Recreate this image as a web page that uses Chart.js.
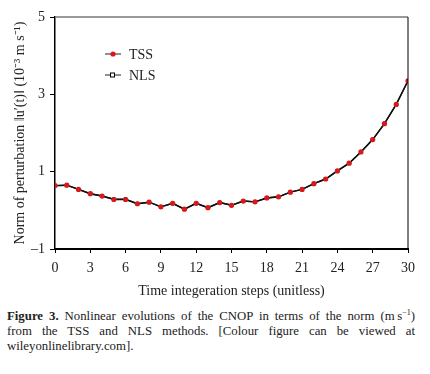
<!DOCTYPE html>
<html>
<head>
<meta charset="utf-8">
<script src="https://cdn.jsdelivr.net/npm/chart.js@4.4.1/dist/chart.umd.min.js"></script>
<style>
  html, body { margin: 0; padding: 0; background: #fff; }
  body { width: 430px; height: 374px; position: relative; overflow: hidden; }
  #wrap { position: absolute; left: 0; top: 0; width: 430px; height: 300px; }
  .cap { position: absolute; left: 7px; width: 408px; top: 309px;
         font-family: "Liberation Serif", serif; font-size: 12.8px; line-height: 15px; color: #222; }
  .cap div { text-align: justify; text-align-last: justify; }
  .cap div.last { text-align-last: left; }
</style>
</head>
<body>
<div id="wrap"><canvas id="chart"></canvas></div>
<div class="cap">
  <div><b>Figure 3.</b> Nonlinear evolutions of the CNOP in terms of the norm (m&#8201;s<sup style="font-size:8px;line-height:0">&minus;1</sup>)</div>
  <div>from the TSS and NLS methods. [Colour figure can be viewed at</div>
  <div class="last">wileyonlinelibrary.com].</div>
</div>
<script>
// time steps and norms
const steps = [0,1,2,3,4,5,6,7,8,9,10,11,12,13,14,15,16,17,18,19,20,21,22,23,24,25,26,27,28,29,30]
const tss = [0.64,0.65,0.54,0.43,0.37,0.28,0.28,0.17,0.21,0.09,0.18,0.03,0.18,0.07,0.20,0.13,0.24,0.22,0.32,0.35,0.47,0.54,0.69,0.81,1.02,1.22,1.51,1.83,2.24,2.74,3.35]
const nls = [0.64,0.65,0.54,0.43,0.37,0.29,0.29,0.17,0.21,0.09,0.18,0.03,0.18,0.07,0.20,0.13,0.24,0.22,0.32,0.35,0.47,0.54,0.69,0.81,1.02,1.22,1.51,1.83,2.24,2.74,3.35]
const xTicks = [0,3,6,9,12,15,18,21,24,27,30]
const yTicks = [-1,1,3,5]

const serif = '"Liberation Serif", serif'

// frame + legend drawn on top of the chart
const framePlugin = {
  id: 'frame',
  afterDraw(chart) {
    const { ctx, chartArea: a } = chart
    ctx.save()
    ctx.strokeStyle = '#777'
    ctx.lineWidth = 1.5
    ctx.beginPath()
    ctx.moveTo(a.left, a.top)
    ctx.lineTo(a.right, a.top)
    ctx.stroke()
    ctx.strokeStyle = '#000'
    ctx.lineWidth = 1
    ctx.beginPath()
    ctx.moveTo(a.right, a.top)
    ctx.lineTo(a.right, a.bottom)
    ctx.stroke()

    // legend
    const items = [
      { label: 'TSS', y: 54, ds: chart.data.datasets[0] },
      { label: 'NLS', y: 75, ds: chart.data.datasets[1] }
    ]
    items.forEach(it => {
      ctx.strokeStyle = '#222'
      ctx.lineWidth = 1
      ctx.beginPath()
      ctx.moveTo(105, it.y)
      ctx.lineTo(121, it.y)
      ctx.stroke()
      if (it.ds.pointStyle === 'rect') {
        ctx.fillStyle = '#fff'
        ctx.fillRect(110.5, it.y - 2, 4, 4)
        ctx.strokeStyle = '#000'
        ctx.strokeRect(110.5, it.y - 2, 4, 4)
      } else {
        ctx.fillStyle = it.ds.pointBackgroundColor
        ctx.beginPath()
        ctx.arc(113, it.y, 2.6, 0, Math.PI * 2)
        ctx.fill()
      }
      ctx.fillStyle = '#222'
      ctx.font = '14px ' + serif
      ctx.textAlign = 'left'
      ctx.textBaseline = 'middle'
      ctx.fillText(it.label, 129, it.y + 1)
    })
    ctx.restore()
  }
}

new Chart(document.getElementById('chart'), {
  type: 'line',
  data: {
    datasets: [
      {
        label: 'TSS',
        data: steps.map((s, i) => ({ x: s, y: tss[i] })),
        borderColor: '#111',
        borderWidth: 1.4,
        pointStyle: 'circle',
        pointRadius: 2.6,
        pointBackgroundColor: '#d7191c',
        pointBorderWidth: 0,
        tension: 0,
        order: 0
      },
      {
        label: 'NLS',
        data: steps.map((s, i) => ({ x: s, y: nls[i] })),
        borderColor: '#111',
        borderWidth: 1.4,
        pointStyle: 'rect',
        pointRadius: 2,
        pointBackgroundColor: '#fff',
        pointBorderColor: '#000',
        pointBorderWidth: 1,
        tension: 0,
        order: 1
      }
    ]
  },
  options: {
    responsive: true,
    maintainAspectRatio: false,
    animation: false,
    layout: { padding: { top: 17, right: 22, left: 0, bottom: 0 } },
    plugins: { legend: { display: false }, tooltip: { enabled: false } },
    scales: {
      x: {
        type: 'linear',
        min: 0, max: 30,
        afterBuildTicks: s => { s.ticks = xTicks.map(v => ({ value: v })) },
        afterFit: s => { s.height = 51 },
        grid: { display: true, drawOnChartArea: false, drawTicks: true, tickLength: 4, color: '#000' },
        border: { display: true, color: '#000', width: 2 },
        ticks: { color: '#222', font: { family: serif, size: 14 }, padding: 7, maxRotation: 0 },
        title: { display: true, text: 'Time integeration steps (unitless)', color: '#222',
                 font: { family: serif, size: 14 }, padding: { top: 2, bottom: 0 } }
      },
      y: {
        min: -1, max: 5,
        afterBuildTicks: s => { s.ticks = yTicks.map(v => ({ value: v })) },
        afterFit: s => { s.width = 55 },
        grid: { display: true, drawOnChartArea: false, drawTicks: true, tickLength: 5, color: '#000' },
        border: { display: true, color: '#000', width: 1.5 },
        ticks: { color: '#222', font: { family: serif, size: 14 }, padding: 5,
                 callback: v => String(v).replace('-', '\u2013') },
        title: { display: true, text: 'Norm of perturbation \u2016u\u2032(t)\u2016 (10\u207B\u00B3 m s\u207B\u00B9)', color: '#222',
                 font: { family: serif, size: 14 }, padding: { top: 12, bottom: 4 } }
      }
    }
  },
  plugins: [framePlugin]
})
</script>
</body>
</html>
